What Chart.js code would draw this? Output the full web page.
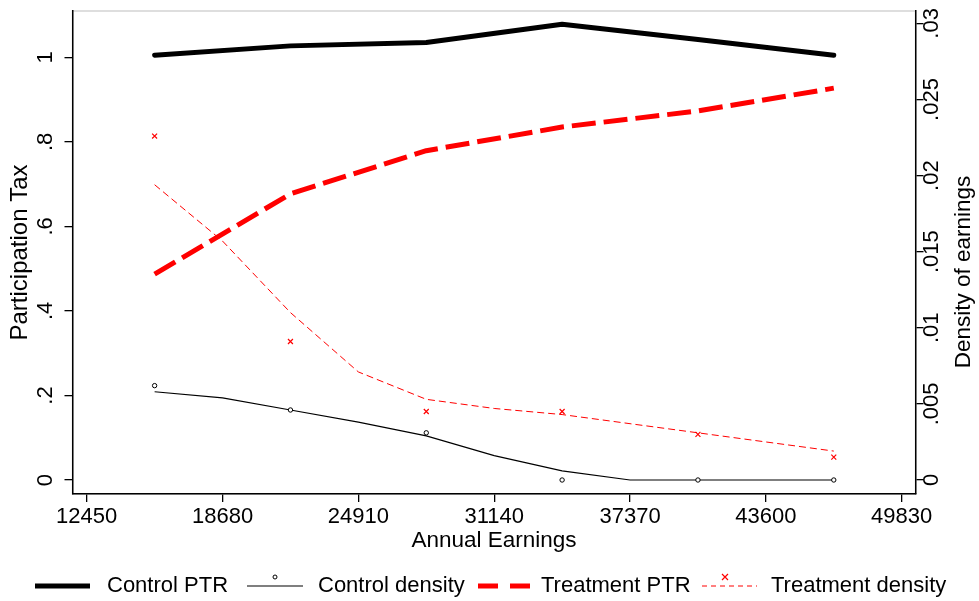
<!DOCTYPE html>
<html><head><meta charset="utf-8">
<script src="https://cdn.jsdelivr.net/npm/chart.js@4.4.1/dist/chart.umd.min.js"></script>
<style>html,body{margin:0;padding:0;background:#fff;} #wrap{width:979px;height:601px;position:relative;}</style>
</head><body><div id="wrap"><canvas id="c" width="979" height="601"></canvas></div>
<script>
// ---- data ----
const earningsPoints = [15565, 21795, 28025, 34255, 40485, 46715];
const controlPTR = [1.005, 1.027, 1.035, 1.078, 1.042, 1.005];
const treatmentPTR = [0.487, 0.677, 0.779, 0.835, 0.873, 0.927];
const controlDensity = [0.0062, 0.0046, 0.0031, 0, 0, 0];
const treatmentDensity = [0.0226, 0.0091, 0.0045, 0.0045, 0.0030, 0.0015];
const smoothEarnings = [15565, 18680, 21795, 24910, 28025, 31140, 34255, 37370, 40485, 43600, 46715];
const controlSmooth = [0.0058, 0.0054, 0.0046, 0.0038, 0.0029, 0.0016, 0.0006, 0, 0, 0, 0];
const treatmentSmooth = [0.0194, 0.0157, 0.0110, 0.0071, 0.0053, 0.0047, 0.0043, 0.0037, 0.0031, 0.0025, 0.0019];
const xTicks = [12450, 18680, 24910, 31140, 37370, 43600, 49830];
const leftTicks = [0, 0.2, 0.4, 0.6, 0.8, 1];
const rightTicks = [0, 0.005, 0.01, 0.015, 0.02, 0.025, 0.03];
const legendLabels = ['Control PTR', 'Control density', 'Treatment PTR', 'Treatment density'];
const xTitle = 'Annual Earnings';
const leftTitle = 'Participation Tax';
const rightTitle = 'Density of earnings';

const FONT = "'Liberation Sans', Arial, Helvetica, sans-serif";
Chart.defaults.font.family = FONT;
Chart.defaults.color = '#000';

const pts = (xs, ys) => xs.map((x, i) => ({x: x, y: ys[i]}));
const fmt = v => {
  const s = (+v.toFixed(4)).toString();
  return s.replace(/^0\./, '.');
};
const RED = '#ff0000';
const noPad = s => { s.paddingTop = 0; s.paddingBottom = 0; s.paddingLeft = 0; s.paddingRight = 0; };

const plotFrame = {
  id: 'plotFrame',
  beforeDraw(chart) {
    const {ctx, chartArea: a} = chart;
    ctx.save();
    ctx.fillStyle = '#fff';
    ctx.fillRect(0, 0, chart.width, chart.height);
    ctx.strokeStyle = '#d4d4d4';
    ctx.lineWidth = 1.5;
    ctx.strokeRect(a.left, a.top, a.right - a.left, a.bottom - a.top);
    ctx.restore();
  }
};

const extras = {
  id: 'extras',
  afterDraw(chart) {
    const ctx = chart.ctx;
    ctx.save();
    // right axis title (reads bottom-to-top)
    ctx.font = '22.5px ' + FONT;
    ctx.fillStyle = '#000';
    ctx.textAlign = 'center';
    ctx.textBaseline = 'middle';
    ctx.translate(964, 272);
    ctx.rotate(-Math.PI / 2);
    ctx.fillText(rightTitle, 0, 0);
    ctx.restore();

    // legend
    const y = 586;
    ctx.save();
    ctx.font = '22px ' + FONT;
    ctx.fillStyle = '#000';
    ctx.textAlign = 'left';
    ctx.textBaseline = 'middle';
    // Control PTR
    ctx.strokeStyle = '#000'; ctx.lineWidth = 5; ctx.lineCap = 'butt';
    ctx.beginPath(); ctx.moveTo(35, y); ctx.lineTo(90, y); ctx.stroke();
    ctx.fillText(legendLabels[0], 107, y);
    // Control density
    ctx.lineWidth = 1.2;
    ctx.beginPath(); ctx.moveTo(247, y); ctx.lineTo(303, y); ctx.stroke();
    ctx.beginPath(); ctx.arc(275, y - 9, 2, 0, Math.PI * 2); ctx.fillStyle = '#fff'; ctx.fill(); ctx.lineWidth = 1; ctx.stroke();
    ctx.fillStyle = '#000';
    ctx.fillText(legendLabels[1], 318, y);
    // Treatment PTR
    ctx.strokeStyle = RED; ctx.lineWidth = 5; ctx.setLineDash([20, 12]);
    ctx.beginPath(); ctx.moveTo(478, y); ctx.lineTo(533, y); ctx.stroke();
    ctx.setLineDash([]);
    ctx.fillText(legendLabels[2], 541, y);
    // Treatment density
    ctx.lineWidth = 1; ctx.setLineDash([5, 4]);
    ctx.beginPath(); ctx.moveTo(702, y); ctx.lineTo(757, y); ctx.stroke();
    ctx.setLineDash([]);
    ctx.lineWidth = 1.2;
    const mx = 725, my = y - 9, r = 3;
    ctx.beginPath(); ctx.moveTo(mx - r, my - r); ctx.lineTo(mx + r, my + r); ctx.moveTo(mx + r, my - r); ctx.lineTo(mx - r, my + r); ctx.stroke();
    ctx.fillText(legendLabels[3], 771, y);
    ctx.restore();
  }
};

const axisGrid = {display: true, drawOnChartArea: false, drawTicks: true, tickLength: 8, color: '#000', lineWidth: 1.3};
const axisBorder = {display: true, color: '#000', width: 1.5};

new Chart(document.getElementById('c'), {
  type: 'line',
  data: {
    datasets: [
      {label: legendLabels[0], data: pts(earningsPoints, controlPTR), yAxisID: 'y', borderColor: '#000', borderWidth: 5,
       borderCapStyle: 'round', borderJoinStyle: 'round', pointRadius: 0, tension: 0, fill: false},
      {label: legendLabels[1] + ' points', data: pts(earningsPoints, controlDensity), yAxisID: 'y1', showLine: false,
       pointStyle: 'circle', pointRadius: 2.2, pointBorderColor: '#000', pointBackgroundColor: '#fff', pointBorderWidth: 1},
      {label: legendLabels[1], data: pts(smoothEarnings, controlSmooth), yAxisID: 'y1', borderColor: '#000', borderWidth: 1.2,
       pointRadius: 0, tension: 0, fill: false},
      {label: legendLabels[2], data: pts(earningsPoints, treatmentPTR), yAxisID: 'y', borderColor: RED, borderWidth: 5,
       borderDash: [24, 8], borderCapStyle: 'butt', borderJoinStyle: 'round', pointRadius: 0, tension: 0, fill: false},
      {label: legendLabels[3] + ' points', data: pts(earningsPoints, treatmentDensity), yAxisID: 'y1', showLine: false,
       pointStyle: 'crossRot', pointRadius: 3.5, pointBorderColor: RED, pointBorderWidth: 1.2},
      {label: legendLabels[3], data: pts(smoothEarnings, treatmentSmooth), yAxisID: 'y1', borderColor: RED, borderWidth: 1,
       borderDash: [7, 4], pointRadius: 0, tension: 0, fill: false}
    ]
  },
  options: {
    responsive: false,
    animation: false,
    devicePixelRatio: 1,
    layout: {padding: {top: 11, left: 0, right: 0, bottom: 44}},
    plugins: {legend: {display: false}, tooltip: {enabled: false}},
    scales: {
      x: {
        type: 'linear', position: 'bottom', min: 11799, max: 50463,
        afterBuildTicks: s => { s.ticks = xTicks.map(v => ({value: v})); },
        afterFit: s => { s.height = 63; noPad(s); },
        ticks: {callback: v => String(v), font: {size: 22}, padding: 2, maxRotation: 0, autoSkip: false},
        grid: axisGrid, border: axisBorder,
        title: {display: true, text: xTitle, font: {size: 22.5, lineHeight: 1.2}, padding: {top: 0, bottom: 3}}
      },
      y: {
        type: 'linear', position: 'left', min: -0.0331, max: 1.1095,
        afterBuildTicks: s => { s.ticks = leftTicks.map(v => ({value: v})); },
        afterFit: s => { s.width = 72.5; noPad(s); },
        ticks: {callback: v => fmt(v), font: {size: 22}, minRotation: 90, maxRotation: 90, crossAlign: 'center', padding: 9.8, autoSkip: false},
        grid: axisGrid, border: axisBorder,
        title: {display: true, text: leftTitle, font: {size: 24, lineHeight: 1.2}, padding: {top: 6.2, bottom: 0}}
      },
      y1: {
        type: 'linear', position: 'right', min: -0.00092, max: 0.030815,
        afterBuildTicks: s => { s.ticks = rightTicks.map(v => ({value: v})); },
        afterFit: s => { s.width = 63.5; noPad(s); },
        ticks: {callback: v => fmt(v), font: {size: 22}, minRotation: 90, maxRotation: 90, crossAlign: 'center', padding: -13, autoSkip: false},
        grid: axisGrid, border: axisBorder
      }
    }
  },
  plugins: [plotFrame, extras]
});
</script>
</body></html>
